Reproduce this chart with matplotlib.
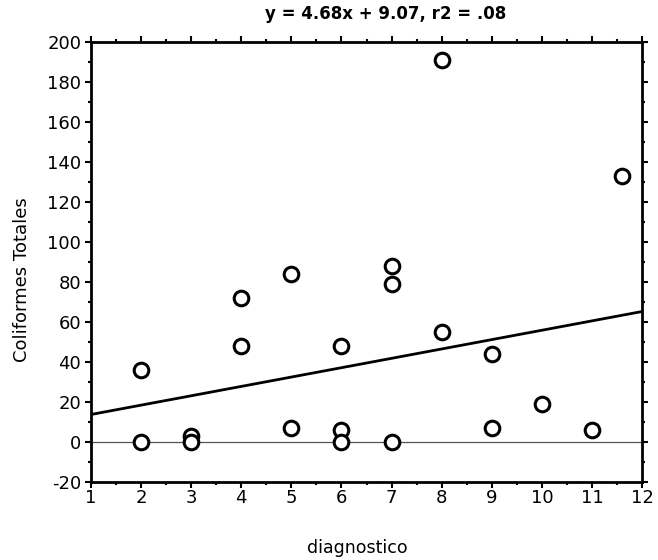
import matplotlib
matplotlib.use("Agg")
import matplotlib.pyplot as plt
from matplotlib.ticker import MultipleLocator
import numpy as np

plt.rcParams['font.family'] = ['DejaVu Sans']
plt.rcParams['axes.unicode_minus'] = False

diagnostico = [2, 2, 3, 3, 4, 4, 5, 5, 6, 6, 6, 7, 7, 7, 8, 8, 9, 9, 10, 11, 11.6]
coliformes = [36, 0, 3, 0, 72, 48, 84, 7, 48, 6, 0, 88, 79, 0, 191, 55, 44, 7, 19, 6, 133]
slope, intercept = 4.68, 9.07
title = "y = 4.68x + 9.07, r2 = .08"
xticks = list(range(1, 13))
yticks = list(range(-20, 201, 20))

fig = plt.figure(figsize=(6.58, 5.6), dpi=100)
ax = fig.add_axes([0.1383, 0.1393, 0.8374, 0.7857])

ax.axhline(0, color='#555555', lw=0.9, zorder=1)
xl = np.array([1, 12])
ax.plot(xl, slope * xl + intercept, color='black', lw=2.0, zorder=2)
ax.plot(diagnostico, coliformes, 'o', mfc='white', mec='black', ms=10.5, mew=2.2, zorder=3, clip_on=False)

ax.set_xlim(1, 12)
ax.set_ylim(-20, 200)
ax.set_xticks(xticks)
ax.set_yticks(yticks)
ax.xaxis.set_minor_locator(MultipleLocator(0.5))
ax.yaxis.set_minor_locator(MultipleLocator(10))
ax.tick_params(which='both', direction='out', top=True, right=True, width=1.5, labelsize=13)
ax.tick_params(which='major', length=4, pad=3)
ax.tick_params(axis='x', which='major', pad=1)
ax.tick_params(which='minor', length=2.5)
ax.tick_params(top=True, labeltop=False, right=True, labelright=False)
for s in ax.spines.values():
    s.set_linewidth(2)

fig.text(386 / 658, 1 - 14 / 560, title, fontsize=12, fontweight='bold', ha='center', va='center')
ax.set_xlabel("diagnostico", fontsize=12.5)
ax.xaxis.set_label_coords(357 / 658 * 0 + (357 - 91) / 551, -(548 - 482) / 440)
ax.xaxis.label.set_va('center')
ax.set_ylabel("Coliformes Totales", fontsize=13)
ax.yaxis.set_label_coords(-(91 - 22) / 551, (482 - 280) / 440)
ax.yaxis.label.set_va('center')

fig.savefig("out.png", dpi=100)
